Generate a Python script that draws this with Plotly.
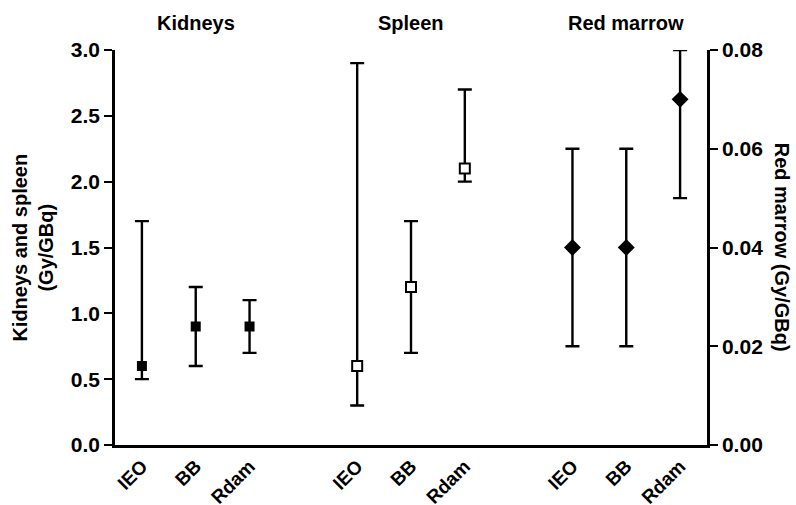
import plotly.graph_objects as go

methods = ["IEO", "BB", "Rdam"]
organs = ["Kidneys", "Spleen", "Red marrow"]

kidneys_val = [0.6, 0.9, 0.9]
kidneys_low = [0.5, 0.6, 0.7]
kidneys_high = [1.7, 1.2, 1.1]

spleen_val = [0.6, 1.2, 2.1]
spleen_low = [0.3, 0.7, 2.0]
spleen_high = [2.9, 1.7, 2.7]

marrow_val = [0.04, 0.04, 0.07]
marrow_low = [0.02, 0.02, 0.05]
marrow_high = [0.06, 0.06, 0.08]

group_pos = [[0, 1, 2], [4, 5, 6], [8, 9, 10]]

FONT = "Arial, Liberation Sans, sans-serif"
BLACK = "#000000"

fig = go.Figure()

def add(xs, vals, lows, highs, symbol, color, size, yaxis, line_w=0):
    fig.add_trace(go.Scatter(
        x=xs, y=vals, mode="markers", yaxis=yaxis, cliponaxis=False,
        marker=dict(symbol=symbol, size=size, color=color,
                    line=dict(color=BLACK, width=line_w)),
        error_y=dict(type="data", symmetric=False,
                     array=[h - v for h, v in zip(highs, vals)],
                     arrayminus=[v - l for l, v in zip(lows, vals)],
                     color=BLACK, thickness=2.4, width=7),
        showlegend=False,
    ))

add(group_pos[0], kidneys_val, kidneys_low, kidneys_high, "square", BLACK, 10, "y")
add(group_pos[1], spleen_val, spleen_low, spleen_high, "square", "#ffffff", 10, "y", line_w=2)
add(group_pos[2], marrow_val, marrow_low, marrow_high, "diamond", BLACK, 13, "y2")

tickvals = [p for g in group_pos for p in g]
ticktext = [m for _ in organs for m in methods]

bold = dict(family=FONT, size=20, color=BLACK, weight="bold")
tickbold = dict(family=FONT, size=21, color=BLACK, weight="bold")

for organ, g in zip(organs, group_pos):
    fig.add_annotation(x=g[1], y=1.068, xref="x", yref="paper", text=organ,
                       showarrow=False, font=bold, xanchor="center", yanchor="middle")

fig.add_annotation(x=-0.14, y=0.5, xref="paper", yref="paper",
                   text="Kidneys and spleen<br>(Gy/GBq)", textangle=-90,
                   showarrow=False, font=bold, xanchor="center", yanchor="middle")
fig.add_annotation(x=1.128, y=0.5, xref="paper", yref="paper",
                   text="Red marrow (Gy/GBq)", textangle=90,
                   showarrow=False, font=bold, xanchor="center", yanchor="middle")

fig.update_layout(
    width=796, height=505,
    margin=dict(l=115, r=89, t=50, b=60),
    paper_bgcolor="white", plot_bgcolor="white",
    font=dict(family=FONT, color=BLACK),
    xaxis=dict(range=[-0.5, 10.5], tickvals=tickvals, ticktext=ticktext, tickangle=-45,
               automargin=False,
               showgrid=False, zeroline=False, showline=True, linecolor=BLACK, linewidth=2.5,
               ticks="", tickfont=dict(family=FONT, size=19, color=BLACK, weight="bold")),
    yaxis=dict(range=[0, 3], dtick=0.5, tickformat=".1f", showgrid=False, zeroline=False,
               automargin=False,
               showline=True, linecolor=BLACK, linewidth=2.5, ticks="outside", ticklen=8,
               tickwidth=2, tickcolor=BLACK, tickfont=tickbold),
    yaxis2=dict(range=[0, 0.08], dtick=0.02, tickformat=".2f", overlaying="y", side="right",
                automargin=False,
                showgrid=False, zeroline=False, showline=True, linecolor=BLACK, linewidth=2.5,
                ticks="outside", ticklen=8, tickwidth=2, tickcolor=BLACK, tickfont=tickbold),
)

fig.write_html("out.html")
